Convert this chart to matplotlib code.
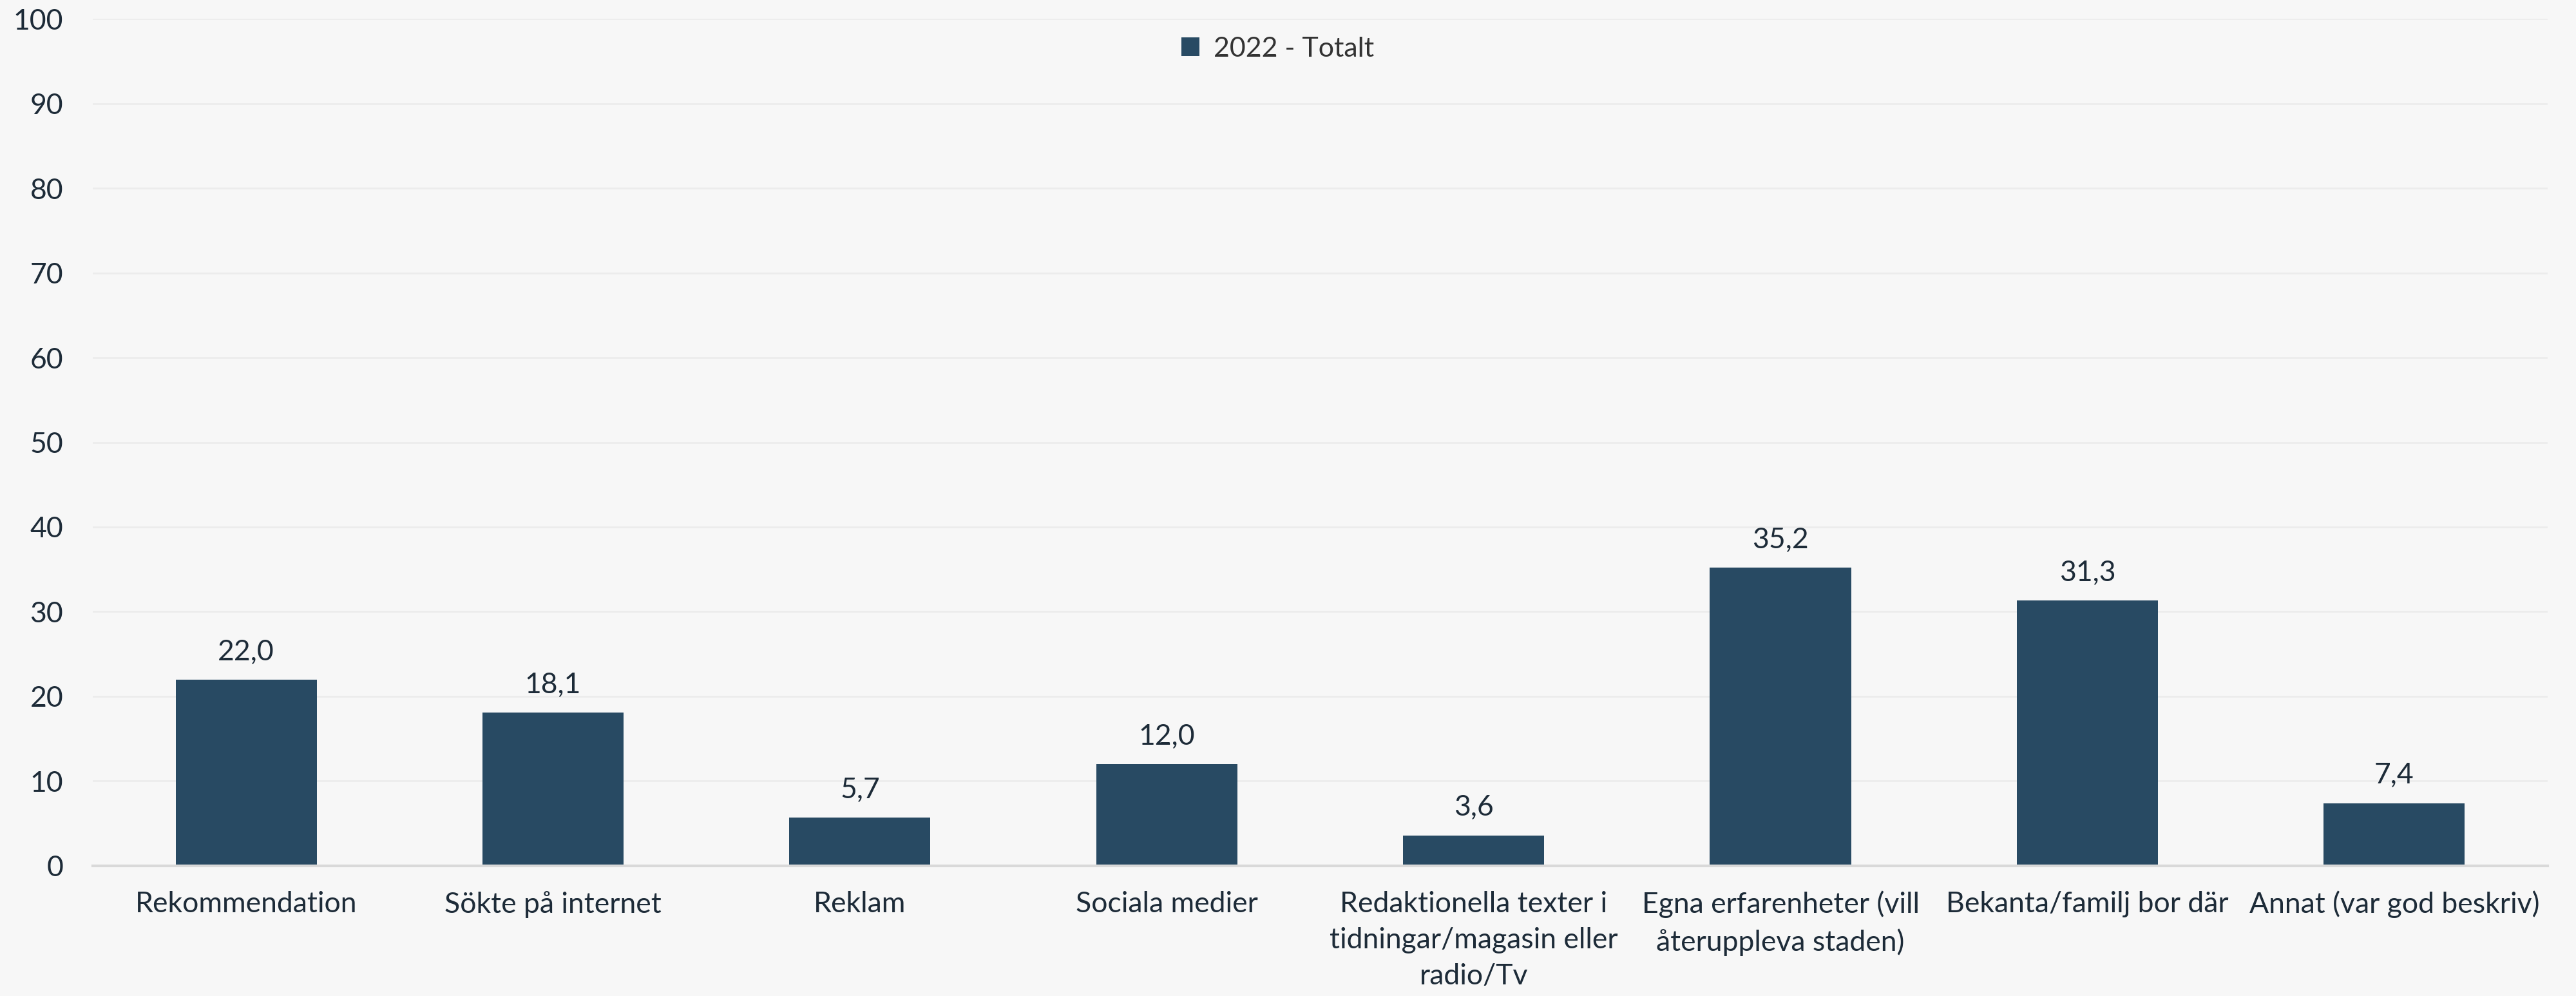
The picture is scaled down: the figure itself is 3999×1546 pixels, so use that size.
import matplotlib
matplotlib.use("Agg")
import matplotlib.pyplot as plt
import numpy as np

categories = ["Rekommendation", "Sökte på internet", "Reklam", "Sociala medier",
              "Redaktionella texter i\ntidningar/magasin eller\nradio/Tv",
              "Egna erfarenheter (vill\nåteruppleva staden)",
              "Bekanta/familj bor där", "Annat (var god beskriv)"]
values = [22.0, 18.1, 5.7, 12.0, 3.6, 35.2, 31.3, 7.4]
series_name = "2022 - Totalt"
yticks = [0, 10, 20, 30, 40, 50, 60, 70, 80, 90, 100]

bg = "#f7f7f7"
bar_color = "#284a63"
text_color = "#1d2b38"

plt.rcParams['font.family'] = ['Lato', 'DejaVu Sans']

fig = plt.figure(figsize=(39.99, 15.46), dpi=100, facecolor=bg)
ax = fig.add_axes([0.036, 0.1307, 0.953, 0.8505])
ax.set_facecolor(bg)

x = np.arange(len(categories))
bars = ax.bar(x, values, width=0.46, color=bar_color, label=series_name, zorder=3)
for xi, v in zip(x, values):
    ax.annotate(f"{v:.1f}".replace(".", ","), (xi, v), xytext=(0, 16),
                textcoords="offset points", ha="center", va="bottom",
                fontsize=32, color=text_color)

ax.set_xlim(-0.5, len(categories) - 0.5)
ax.set_ylim(0, 100)
ax.set_yticks(yticks)
ax.set_yticklabels([str(t) for t in yticks], fontsize=32, color=text_color)
ax.set_xticks(x)
ax.set_xticklabels(categories, fontsize=32, color=text_color, linespacing=1.45)
ax.tick_params(axis='both', length=0)
ax.tick_params(axis='x', pad=28)
ax.tick_params(axis='y', pad=33)
ax.grid(axis='y', color="#ececec", linewidth=2, zorder=0)
for s in ["top", "right", "left"]:
    ax.spines[s].set_visible(False)
ax.spines["bottom"].set_color("#d9d9d9")
ax.spines["bottom"].set_linewidth(3)
ax.spines["bottom"].set_zorder(4)

leg = fig.legend(handles=[bars], labels=[series_name], loc="center",
                 bbox_to_anchor=(0.496, 0.951), frameon=False, fontsize=31,
                 handlelength=0.65, handleheight=0.65, handletextpad=0.5)
for t in leg.get_texts():
    t.set_color("#333333")

fig.savefig("out.png", dpi=100, facecolor=bg)
